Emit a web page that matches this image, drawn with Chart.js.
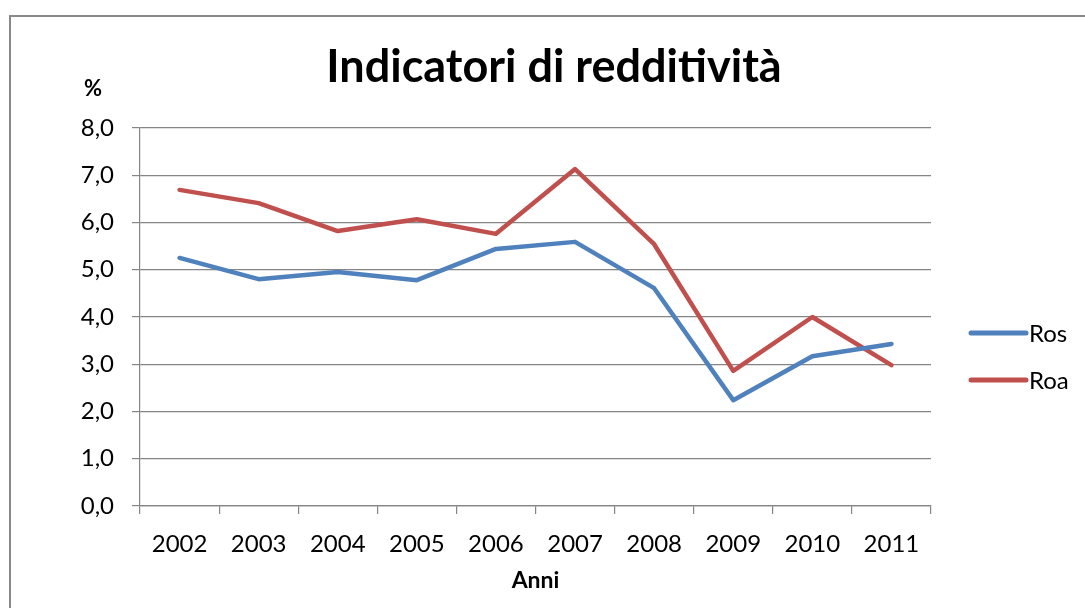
<!DOCTYPE html>
<html>
<head>
<meta charset="utf-8">
<script src="https://cdn.jsdelivr.net/npm/chart.js@4.4.1/dist/chart.umd.min.js"></script>
<style>
  html, body { margin: 0; padding: 0; background: #ffffff; }
  #wrap { position: relative; width: 1085px; height: 608px; }
  canvas { display: block; }
</style>
</head>
<body>
<div id="wrap"><canvas id="c" width="1085" height="608"></canvas></div>
<script>
const categories = ['2002', '2003', '2004', '2005', '2006', '2007', '2008', '2009', '2010', '2011'];
const rosValues = [5.25, 4.80, 4.95, 4.78, 5.44, 5.59, 4.61, 2.24, 3.17, 3.43];
const roaValues = [6.69, 6.41, 5.82, 6.07, 5.76, 7.13, 5.54, 2.86, 4.00, 2.98];
const seriesNames = ['Ros', 'Roa'];
const chartTitle = 'Indicatori di redditività';
const yAxisTitle = '%';
const xAxisTitle = 'Anni';

const FONT = 'Lato, "Open Sans", sans-serif';
const GRID = '#858585';

const decorPlugin = {
  id: 'decor',
  beforeDraw(chart) {
    const ctx = chart.ctx;
    ctx.save();
    ctx.fillStyle = '#ffffff';
    ctx.fillRect(0, 0, chart.width, chart.height);
    ctx.fillStyle = '#898989';
    ctx.fillRect(9, 15, 2, chart.height - 15);
    ctx.fillRect(9, 15, chart.width - 9, 2);
    ctx.restore();
  },
  afterDraw(chart) {
    const ctx = chart.ctx;
    const area = chart.chartArea;
    ctx.save();
    // title
    ctx.fillStyle = '#000000';
    ctx.font = 'bold 45px ' + FONT;
    ctx.textAlign = 'center';
    ctx.textBaseline = 'alphabetic';
    ctx.fillText(chartTitle, 554, 82);
    // y axis title
    ctx.font = 'bold 22px ' + FONT;
    ctx.textAlign = 'left';
    ctx.fillText(yAxisTitle, area.left - 56, 96);
    // legend
    chart.data.datasets.forEach((ds, i) => {
      const y = 333 + i * 47;
      ctx.strokeStyle = ds.borderColor;
      ctx.lineWidth = 5;
      ctx.lineCap = 'round';
      ctx.beginPath();
      ctx.moveTo(area.right + 40, y);
      ctx.lineTo(area.right + 95, y);
      ctx.stroke();
      ctx.fillStyle = '#000000';
      ctx.font = '24px ' + FONT;
      ctx.textAlign = 'left';
      ctx.textBaseline = 'middle';
      ctx.fillText(ds.label, area.right + 98, y + 1);
    });
    ctx.restore();
  }
};

new Chart(document.getElementById('c'), {
  type: 'line',
  data: {
    labels: categories,
    datasets: [
      {
        label: seriesNames[0],
        data: rosValues,
        borderColor: '#4F81BD',
        backgroundColor: '#4F81BD',
        borderWidth: 4.5,
        pointRadius: 0,
        tension: 0,
        borderCapStyle: 'round',
        borderJoinStyle: 'round'
      },
      {
        label: seriesNames[1],
        data: roaValues,
        borderColor: '#C0504D',
        backgroundColor: '#C0504D',
        borderWidth: 4.5,
        pointRadius: 0,
        tension: 0,
        borderCapStyle: 'round',
        borderJoinStyle: 'round'
      }
    ]
  },
  options: {
    responsive: false,
    animation: false,
    devicePixelRatio: 1,
    layout: { padding: { left: 0, right: 154, top: 128, bottom: 0 } },
    plugins: {
      legend: { display: false },
      title: { display: false },
      tooltip: { enabled: false }
    },
    scales: {
      x: {
        type: 'category',
        offset: true,
        afterFit(scale) { scale.height = 102; },
        grid: {
          offset: true,
          drawOnChartArea: false,
          drawTicks: true,
          tickLength: 8,
          color: GRID,
          lineWidth: 1.2
        },
        border: { display: true, color: GRID, width: 1.2 },
        ticks: {
          color: '#000000',
          font: { family: FONT, size: 24 },
          padding: 16,
          maxRotation: 0,
          autoSkip: false
        },
        title: {
          display: true,
          text: xAxisTitle,
          color: '#000000',
          font: { family: FONT, size: 23, weight: 'bold' },
          padding: { top: 0, bottom: 14 }
        }
      },
      y: {
        min: 0,
        max: 8,
        afterFit(scale) { scale.width = 140; },
        grid: {
          drawOnChartArea: true,
          drawTicks: true,
          tickLength: 8,
          color: GRID,
          lineWidth: 1.2
        },
        border: { display: true, color: GRID, width: 1.2 },
        ticks: {
          stepSize: 1,
          color: '#000000',
          font: { family: FONT, size: 24 },
          padding: 18,
          callback: (v) => v.toFixed(1).replace('.', ',')
        }
      }
    }
  },
  plugins: [decorPlugin]
});
</script>
</body>
</html>
